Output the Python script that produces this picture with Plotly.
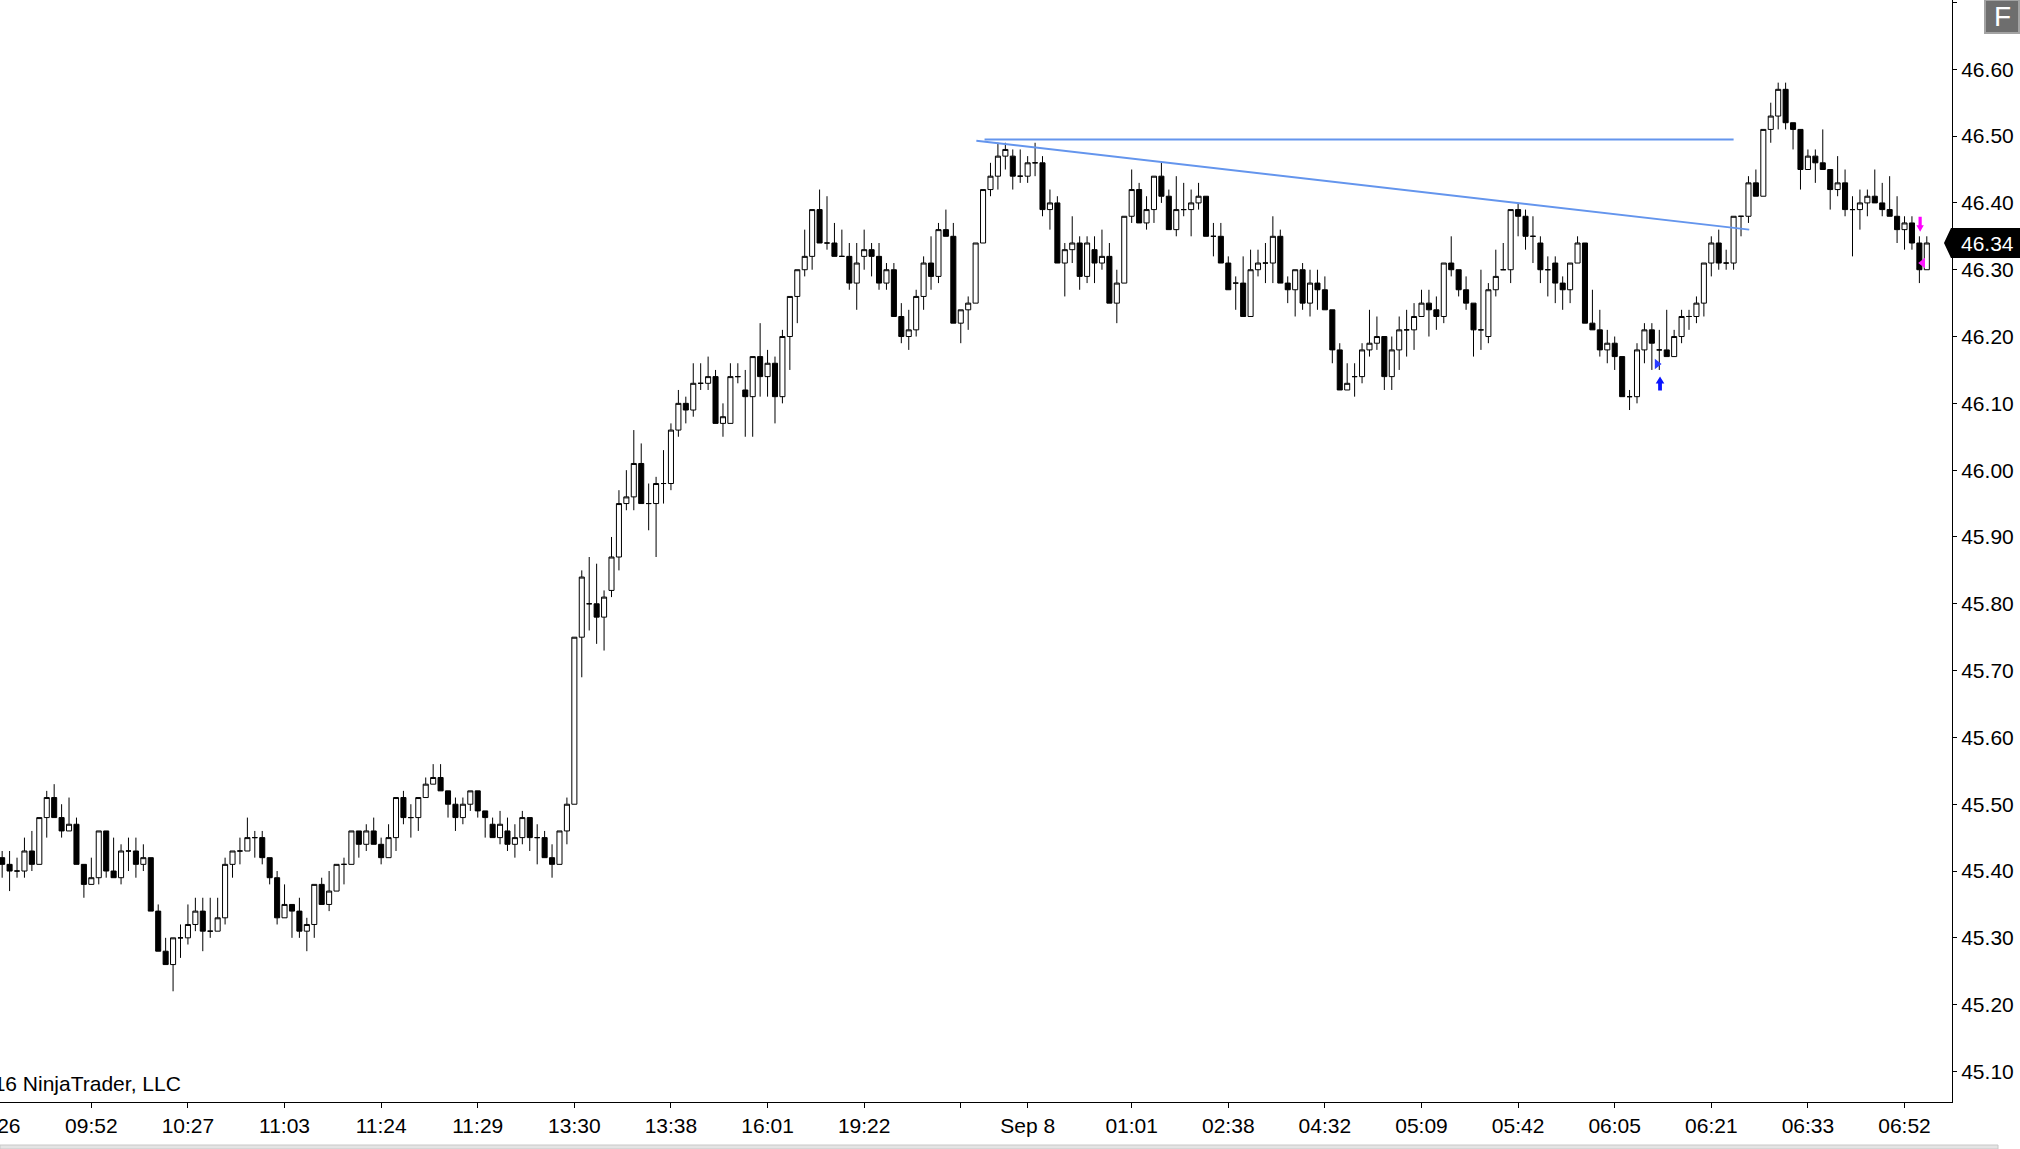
"""
Gráfico de velas (estilo NinjaTrader) con dos líneas de tendencia.
"""

import plotly.graph_objects as go

# --- datos OHLC por barra (índice 0..259) ---
opens = [
    45.42, 45.41, 45.40, 45.40, 45.43, 45.41, 45.48, 45.51, 45.48, 45.46,
    45.47, 45.41, 45.38, 45.39, 45.46, 45.40, 45.39, 45.43, 45.43, 45.41,
    45.42, 45.34, 45.28, 45.26, 45.30, 45.30, 45.32, 45.34, 45.31, 45.31,
    45.33, 45.41, 45.43, 45.43, 45.45, 45.45, 45.42, 45.39, 45.33, 45.35,
    45.34, 45.31, 45.32, 45.38, 45.35, 45.37, 45.41, 45.41, 45.46, 45.44,
    45.46, 45.44, 45.42, 45.45, 45.51, 45.48, 45.48, 45.51, 45.53, 45.54,
    45.52, 45.50, 45.48, 45.50, 45.52, 45.49, 45.47, 45.45, 45.46, 45.44,
    45.45, 45.48, 45.45, 45.45, 45.42, 45.41, 45.46, 45.50, 45.75, 45.80,
    45.80, 45.78, 45.82, 45.87, 45.95, 45.96, 46.01, 45.95, 45.95, 45.98,
    45.98, 46.06, 46.10, 46.09, 46.13, 46.13, 46.14, 46.07, 46.07, 46.14,
    46.12, 46.11, 46.17, 46.14, 46.16, 46.11, 46.20, 46.26, 46.30, 46.32,
    46.39, 46.34, 46.34, 46.32, 46.32, 46.28, 46.32, 46.33, 46.32, 46.28,
    46.30, 46.23, 46.20, 46.21, 46.26, 46.31, 46.29, 46.36, 46.35, 46.22,
    46.24, 46.25, 46.34, 46.42, 46.44, 46.47, 46.47, 46.44, 46.44, 46.46,
    46.46, 46.39, 46.40, 46.31, 46.33, 46.34, 46.29, 46.33, 46.31, 46.32,
    46.25, 46.28, 46.38, 46.42, 46.37, 46.39, 46.44, 46.41, 46.36, 46.39,
    46.39, 46.40, 46.41, 46.35, 46.35, 46.31, 46.28, 46.28, 46.23, 46.30,
    46.31, 46.31, 46.35, 46.28, 46.27, 46.30, 46.25, 46.28, 46.27, 46.24,
    46.18, 46.12, 46.14, 46.14, 46.18, 46.19, 46.20, 46.14, 46.18, 46.21,
    46.21, 46.23, 46.25, 46.24, 46.23, 46.31, 46.30, 46.27, 46.25, 46.21,
    46.20, 46.27, 46.30, 46.30, 46.39, 46.38, 46.35, 46.34, 46.30, 46.31,
    46.28, 46.27, 46.31, 46.34, 46.22, 46.21, 46.18, 46.19, 46.17, 46.11,
    46.11, 46.18, 46.21, 46.18, 46.18, 46.17, 46.20, 46.23, 46.23, 46.25,
    46.31, 46.34, 46.31, 46.31, 46.38, 46.38, 46.43, 46.41, 46.51, 46.53,
    46.57, 46.52, 46.51, 46.45, 46.47, 46.46, 46.45, 46.42, 46.43, 46.39,
    46.39, 46.40, 46.41, 46.40, 46.39, 46.38, 46.36, 46.37, 46.34, 46.30,
]
highs = [
    45.43, 45.43, 45.42, 45.45, 45.46, 45.48, 45.52, 45.53, 45.50, 45.51,
    45.48, 45.41, 45.42, 45.46, 45.46, 45.45, 45.44, 45.45, 45.45, 45.44,
    45.42, 45.35, 45.30, 45.30, 45.32, 45.35, 45.36, 45.36, 45.36, 45.36,
    45.42, 45.43, 45.45, 45.48, 45.46, 45.46, 45.42, 45.40, 45.38, 45.35,
    45.36, 45.33, 45.38, 45.39, 45.40, 45.41, 45.42, 45.46, 45.46, 45.47,
    45.48, 45.45, 45.47, 45.51, 45.52, 45.50, 45.51, 45.54, 45.56, 45.56,
    45.52, 45.51, 45.51, 45.52, 45.52, 45.49, 45.48, 45.49, 45.48, 45.47,
    45.49, 45.48, 45.47, 45.46, 45.44, 45.46, 45.51, 45.75, 45.85, 45.87,
    45.86, 45.82, 45.90, 45.97, 46.00, 46.06, 46.04, 45.98, 45.99, 46.03,
    46.07, 46.12, 46.11, 46.16, 46.16, 46.17, 46.15, 46.10, 46.16, 46.16,
    46.15, 46.17, 46.22, 46.18, 46.17, 46.21, 46.26, 46.30, 46.36, 46.39,
    46.42, 46.41, 46.37, 46.36, 46.34, 46.34, 46.36, 46.34, 46.34, 46.31,
    46.31, 46.25, 46.24, 46.27, 46.32, 46.35, 46.37, 46.39, 46.37, 46.24,
    46.26, 46.34, 46.42, 46.46, 46.49, 46.49, 46.48, 46.48, 46.47, 46.49,
    46.47, 46.42, 46.41, 46.34, 46.38, 46.35, 46.35, 46.35, 46.36, 46.34,
    46.30, 46.38, 46.45, 46.43, 46.41, 46.44, 46.46, 46.42, 46.44, 46.43,
    46.42, 46.43, 46.41, 46.37, 46.37, 46.32, 46.29, 46.32, 46.33, 46.33,
    46.34, 46.38, 46.36, 46.29, 46.30, 46.31, 46.30, 46.30, 46.29, 46.24,
    46.19, 46.16, 46.16, 46.19, 46.24, 46.23, 46.20, 46.20, 46.23, 46.24,
    46.25, 46.27, 46.27, 46.26, 46.31, 46.35, 46.30, 46.29, 46.25, 46.30,
    46.28, 46.33, 46.34, 46.39, 46.40, 46.39, 46.38, 46.35, 46.32, 46.32,
    46.29, 46.31, 46.35, 46.34, 46.27, 46.24, 46.21, 46.20, 46.17, 46.12,
    46.19, 46.22, 46.22, 46.21, 46.24, 46.21, 46.24, 46.24, 46.26, 46.31,
    46.35, 46.36, 46.33, 46.38, 46.38, 46.44, 46.45, 46.51, 46.55, 46.58,
    46.58, 46.52, 46.51, 46.48, 46.48, 46.51, 46.45, 46.47, 46.45, 46.41,
    46.42, 46.42, 46.45, 46.43, 46.44, 46.41, 46.38, 46.38, 46.35, 46.35,
]
lows = [
    45.39, 45.37, 45.39, 45.39, 45.40, 45.41, 45.45, 45.48, 45.45, 45.46,
    45.41, 45.36, 45.38, 45.38, 45.39, 45.39, 45.38, 45.40, 45.39, 45.40,
    45.34, 45.28, 45.26, 45.22, 45.27, 45.29, 45.31, 45.28, 45.30, 45.31,
    45.32, 45.39, 45.41, 45.43, 45.42, 45.41, 45.38, 45.32, 45.33, 45.30,
    45.30, 45.28, 45.30, 45.35, 45.34, 45.37, 45.38, 45.41, 45.42, 45.43,
    45.44, 45.41, 45.42, 45.43, 45.47, 45.45, 45.46, 45.51, 45.53, 45.52,
    45.48, 45.46, 45.47, 45.49, 45.48, 45.45, 45.45, 45.44, 45.43, 45.42,
    45.44, 45.43, 45.41, 45.42, 45.39, 45.41, 45.44, 45.50, 45.69, 45.76,
    45.74, 45.73, 45.81, 45.85, 45.94, 45.94, 45.95, 45.91, 45.87, 45.95,
    45.97, 46.05, 46.07, 46.08, 46.12, 46.12, 46.07, 46.05, 46.07, 46.13,
    46.05, 46.05, 46.11, 46.11, 46.07, 46.10, 46.15, 46.22, 46.29, 46.30,
    46.34, 46.33, 46.32, 46.32, 46.27, 46.24, 46.30, 46.29, 46.27, 46.27,
    46.23, 46.19, 46.18, 46.20, 46.24, 46.27, 46.28, 46.35, 46.22, 46.19,
    46.21, 46.25, 46.34, 46.41, 46.42, 46.45, 46.42, 46.43, 46.43, 46.44,
    46.38, 46.36, 46.31, 46.26, 46.31, 46.27, 46.28, 46.28, 46.30, 46.25,
    46.22, 46.28, 46.37, 46.37, 46.36, 46.37, 46.40, 46.36, 46.35, 46.38,
    46.35, 46.39, 46.35, 46.32, 46.31, 46.27, 46.24, 46.23, 46.23, 46.29,
    46.28, 46.28, 46.28, 46.25, 46.23, 46.24, 46.23, 46.24, 46.24, 46.16,
    46.12, 46.12, 46.11, 46.13, 46.17, 46.18, 46.12, 46.12, 46.15, 46.17,
    46.18, 46.23, 46.20, 46.21, 46.22, 46.29, 46.26, 46.24, 46.17, 46.18,
    46.19, 46.26, 46.30, 46.28, 46.35, 46.33, 46.31, 46.28, 46.26, 46.25,
    46.24, 46.25, 46.31, 46.22, 46.21, 46.17, 46.16, 46.15, 46.11, 46.09,
    46.10, 46.16, 46.15, 46.15, 46.17, 46.17, 46.19, 46.21, 46.22, 46.23,
    46.29, 46.30, 46.30, 46.30, 46.35, 46.37, 46.41, 46.41, 46.49, 46.51,
    46.51, 46.48, 46.42, 46.45, 46.43, 46.45, 46.39, 46.41, 46.38, 46.32,
    46.36, 46.38, 46.40, 46.38, 46.38, 46.34, 46.33, 46.33, 46.28, 46.30,
]
closes = [
    45.41, 45.40, 45.40, 45.43, 45.41, 45.48, 45.51, 45.48, 45.46, 45.47,
    45.41, 45.38, 45.39, 45.46, 45.40, 45.39, 45.43, 45.43, 45.41, 45.42,
    45.34, 45.28, 45.26, 45.30, 45.30, 45.32, 45.34, 45.31, 45.31, 45.33,
    45.41, 45.43, 45.43, 45.45, 45.45, 45.42, 45.39, 45.33, 45.35, 45.34,
    45.31, 45.32, 45.38, 45.35, 45.37, 45.41, 45.41, 45.46, 45.44, 45.46,
    45.44, 45.42, 45.45, 45.51, 45.48, 45.48, 45.51, 45.53, 45.54, 45.52,
    45.50, 45.48, 45.50, 45.52, 45.49, 45.48, 45.45, 45.47, 45.44, 45.45,
    45.48, 45.45, 45.45, 45.42, 45.41, 45.46, 45.50, 45.75, 45.84, 45.80,
    45.78, 45.81, 45.87, 45.95, 45.96, 46.01, 45.95, 45.95, 45.98, 45.98,
    46.06, 46.10, 46.09, 46.13, 46.13, 46.14, 46.07, 46.08, 46.14, 46.14,
    46.11, 46.17, 46.14, 46.16, 46.11, 46.20, 46.26, 46.30, 46.32, 46.39,
    46.34, 46.34, 46.32, 46.32, 46.28, 46.31, 46.33, 46.32, 46.28, 46.30,
    46.23, 46.20, 46.21, 46.26, 46.31, 46.29, 46.36, 46.35, 46.22, 46.24,
    46.25, 46.34, 46.42, 46.44, 46.47, 46.48, 46.44, 46.44, 46.46, 46.46,
    46.39, 46.40, 46.31, 46.33, 46.34, 46.29, 46.34, 46.31, 46.32, 46.25,
    46.28, 46.38, 46.42, 46.37, 46.39, 46.44, 46.41, 46.36, 46.39, 46.39,
    46.40, 46.41, 46.35, 46.35, 46.31, 46.27, 46.28, 46.23, 46.30, 46.31,
    46.31, 46.35, 46.28, 46.27, 46.30, 46.25, 46.28, 46.27, 46.24, 46.18,
    46.12, 46.13, 46.14, 46.18, 46.19, 46.20, 46.14, 46.18, 46.21, 46.21,
    46.23, 46.25, 46.24, 46.23, 46.31, 46.30, 46.27, 46.25, 46.21, 46.21,
    46.27, 46.29, 46.30, 46.39, 46.38, 46.35, 46.35, 46.30, 46.30, 46.28,
    46.27, 46.31, 46.34, 46.22, 46.21, 46.18, 46.19, 46.17, 46.11, 46.11,
    46.18, 46.21, 46.19, 46.18, 46.17, 46.20, 46.23, 46.23, 46.25, 46.31,
    46.34, 46.31, 46.31, 46.38, 46.38, 46.43, 46.41, 46.51, 46.53, 46.57,
    46.52, 46.51, 46.45, 46.47, 46.46, 46.45, 46.42, 46.43, 46.39, 46.39,
    46.40, 46.41, 46.40, 46.39, 46.38, 46.36, 46.37, 46.34, 46.30, 46.34,
]

# eje temporal: posición de barra -> etiqueta
time_tick_bars = [12, 25, 38, 51, 64, 77, 90, 103, 116, 129,
                  138, 152, 165, 178, 191, 204, 217, 230, 243, 256]
time_tick_labels = ["09:52", "10:27", "11:03", "11:24", "11:29", "13:30",
                    "13:38", "16:01", "19:22", "", "Sep 8", "01:01", "02:38",
                    "04:32", "05:09", "05:42", "06:05", "06:21", "06:33", "06:52"]
cut_tick_bar = -1          # etiqueta cortada en el borde izquierdo
cut_tick_label = "09:26"

price_ticks = [45.10, 45.20, 45.30, 45.40, 45.50, 45.60, 45.70, 45.80,
               45.90, 46.00, 46.10, 46.20, 46.30, 46.40, 46.50, 46.60, 46.70]
price_tick_labels = ["45.10", "45.20", "45.30", "45.40", "45.50", "45.60",
                     "45.70", "45.80", "45.90", "46.00", "46.10", "46.20",
                     "46.30", "46.40", "46.50", "46.60", ""]

# líneas de tendencia dibujadas a mano (barra, precio)
resistance_x = [132.2, 233.0]
resistance_y = [46.495, 46.495]
trendline_x = [131.1, 235.1]
trendline_y = [46.493, 46.36]

# señales de la estrategia
long_arrow_x = [223.1]
long_arrow_y = [46.14]
long_entry_x = [222.7]
long_entry_y = [46.159]
short_arrow_x = [258.1]
short_arrow_y = [46.357]
short_entry_x = [258.45]
short_entry_y = [46.31]

# geometría de la página (px)
W, H = 2020, 1149
PLOT_W, PLOT_H = 1952, 1102
X_RANGE = [-0.29, 262.39]
Y_RANGE = [45.0543, 46.7037]
BAR_PX = PLOT_W / (X_RANGE[1] - X_RANGE[0])
PRICE_PX = PLOT_H / (Y_RANGE[1] - Y_RANGE[0])
FONT = "Arial, Liberation Sans, sans-serif"


def px_x(x):
    return x / PLOT_W


def px_y(y):
    return 1 - y / PLOT_H


def bar_to_paper(bar):
    return (bar - X_RANGE[0]) / (X_RANGE[1] - X_RANGE[0])


def arrow_path(x, tip, up, head_w, shaft_w, head_h, total_h):
    """Flecha gruesa con la punta en (x, tip)."""
    sign = -1 if up else 1
    pts = [(0, 0), (head_w / 2, head_h), (shaft_w / 2, head_h),
           (shaft_w / 2, total_h), (-shaft_w / 2, total_h),
           (-shaft_w / 2, head_h), (-head_w / 2, head_h)]
    coords = [(x + dx / BAR_PX, tip + sign * dy / PRICE_PX) for dx, dy in pts]
    return "M " + " L ".join(f"{a},{b}" for a, b in coords) + " Z"


bars = list(range(len(opens)))

fig = go.Figure()

fig.add_trace(go.Candlestick(
    x=bars, open=opens, high=highs, low=lows, close=closes,
    increasing=dict(line=dict(color="black", width=1), fillcolor="white"),
    decreasing=dict(line=dict(color="black", width=1), fillcolor="black"),
    whiskerwidth=0, showlegend=False, hoverinfo="skip"
))

# líneas de tendencia
for xs, ys in [(resistance_x, resistance_y), (trendline_x, trendline_y)]:
    fig.add_trace(go.Scatter(
        x=xs, y=ys, mode="lines", line=dict(color="#6495ED", width=2),
        showlegend=False, hoverinfo="skip"
    ))

# marcas de entrada
fig.add_trace(go.Scatter(
    x=long_entry_x, y=long_entry_y, mode="markers",
    marker=dict(symbol="triangle-right", size=9, color="#2a3cff"),
    showlegend=False, hoverinfo="skip"
))
fig.add_trace(go.Scatter(
    x=short_entry_x, y=short_entry_y, mode="markers",
    marker=dict(symbol="triangle-left", size=9, color="#ff1aff"),
    showlegend=False, hoverinfo="skip"
))

shapes = []
for x, y in zip(long_arrow_x, long_arrow_y):
    shapes.append(dict(type="path", xref="x", yref="y",
                       path=arrow_path(x, y, True, 8.6, 3.8, 7, 14),
                       fillcolor="#0a14ff", line=dict(width=0)))
for x, y in zip(short_arrow_x, short_arrow_y):
    shapes.append(dict(type="path", xref="x", yref="y",
                       path=arrow_path(x, y, False, 7.4, 3.2, 6.5, 15),
                       fillcolor="#ff00ff", line=dict(width=0)))

# etiqueta del último precio
last = closes[-1]
half = 15 / PRICE_PX
shapes.append(dict(
    type="path", xref="paper", yref="y",
    path=(f"M {px_x(1944)},{last} L {px_x(1951)},{last + half} "
          f"L {px_x(2020)},{last + half} L {px_x(2020)},{last - half} "
          f"L {px_x(1951)},{last - half} Z"),
    fillcolor="black", line=dict(width=0), layer="above"
))

# botón "F" arriba a la derecha
shapes.append(dict(type="rect", xref="paper", yref="paper",
                   x0=px_x(1985), x1=px_x(2019), y0=px_y(33), y1=px_y(0),
                   fillcolor="#6e6e6e", line=dict(color="#a3a3a3", width=2)))

# franja gris inferior
shapes.append(dict(type="rect", xref="paper", yref="paper",
                   x0=px_x(0), x1=px_x(1998), y0=px_y(1149), y1=px_y(1145),
                   fillcolor="#e4e4e4", line=dict(color="#c8c8c8", width=1)))

annotations = [
    dict(x=px_x(1959), y=last, xref="paper", yref="y", text=f"{last:.2f}",
         showarrow=False, xanchor="left", yanchor="middle",
         font=dict(family=FONT, size=21, color="white")),
    dict(x=px_x(2002), y=px_y(16.5), xref="paper", yref="paper", text="F",
         showarrow=False, xanchor="center", yanchor="middle",
         font=dict(family=FONT, size=28, color="white")),
    dict(x=px_x(183), y=px_y(1083), xref="paper", yref="paper",
         text="© 2016 NinjaTrader, LLC", showarrow=False,
         xanchor="right", yanchor="middle",
         font=dict(family=FONT, size=21, color="black")),
    # etiqueta de tiempo medio cortada por el borde izquierdo
    dict(x=bar_to_paper(cut_tick_bar), y=px_y(1126), xref="paper",
         yref="paper", text=cut_tick_label, showarrow=False,
         xanchor="center", yanchor="middle",
         font=dict(family=FONT, size=21, color="black")),
]

fig.update_layout(
    width=W, height=H,
    margin=dict(l=0, r=W - PLOT_W, t=0, b=H - PLOT_H),
    paper_bgcolor="white", plot_bgcolor="white",
    boxgap=0.32, boxgroupgap=0,
    shapes=shapes, annotations=annotations,
    font=dict(family=FONT, size=21, color="black"),
    xaxis=dict(
        range=X_RANGE, rangeslider=dict(visible=False),
        tickmode="array", tickvals=time_tick_bars, ticktext=time_tick_labels,
        ticks="outside", ticklen=5, tickcolor="black", tickwidth=1,
        showline=True, linecolor="black", linewidth=1,
        showgrid=False, zeroline=False,
        tickfont=dict(family=FONT, size=21, color="black"),
    ),
    yaxis=dict(
        range=Y_RANGE, side="right",
        tickmode="array", tickvals=price_ticks, ticktext=price_tick_labels,
        ticks="outside", ticklen=4, tickcolor="black", tickwidth=1,
        showline=True, linecolor="black", linewidth=1,
        showgrid=False, zeroline=False,
        tickfont=dict(family=FONT, size=21, color="black"),
    ),
)

fig.write_html("out.html", config={"displayModeBar": False},
               post_script="document.body.style.margin='0';")
